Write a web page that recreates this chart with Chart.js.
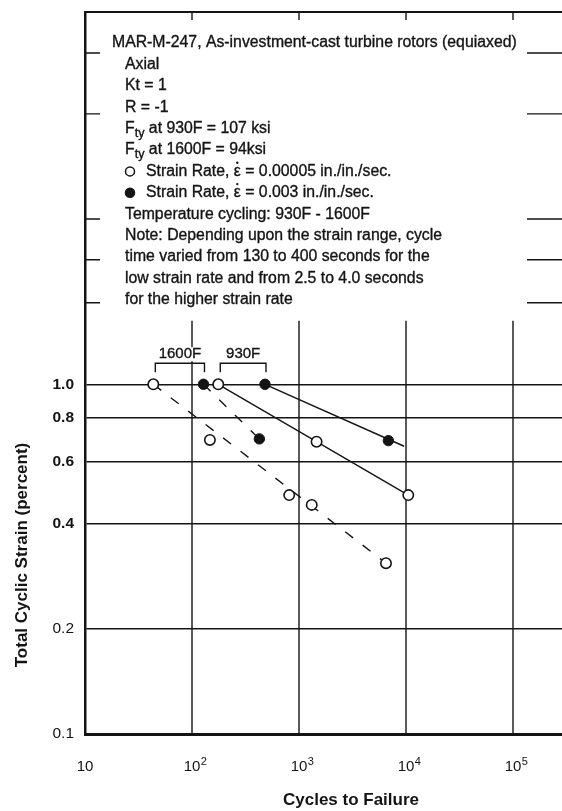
<!DOCTYPE html>
<html>
<head>
<meta charset="utf-8">
<script src="https://cdn.jsdelivr.net/npm/chart.js@4.4.1/dist/chart.umd.min.js"></script>
<style>
  html, body { margin: 0; padding: 0; background: #fff; }
  #wrap { width: 562px; height: 811px; }
</style>
</head>
<body>
<div id="wrap"><canvas id="chart-fatigue" width="562" height="811"></canvas></div>
<script>
const FACE = "'Liberation Sans', Arial, sans-serif";
const INK = "#141414";

// open symbols: strain rate 0.00005 in./in./sec.
const slowCycles = [43.5, 176, 147, 1460, 810, 1315, 10500, 6500];
const slowStrain = [1.0, 1.0, 0.693, 0.685, 0.482, 0.452, 0.482, 0.308];
// filled symbols: strain rate 0.003 in./in./sec.
const fastCycles = [128, 481, 426, 6840];
const fastStrain = [1.0, 1.0, 0.698, 0.69];

// trend lines (end points)
const line930SlowN = [176, 10500];
const line930SlowS = [1.0, 0.482];
const line930FastN = [481, 9600];
const line930FastS = [1.0, 0.665];
const line1600SlowN = [43.5, 6500];
const line1600SlowS = [1.0, 0.308];
const line1600FastN = [128, 426];
const line1600FastS = [1.0, 0.698];

const xTicks = [10, 100, 1000, 10000, 100000];
const xTickLabels = ["10", "10²", "10³", "10⁴", "10⁵"];
const yTicks = [0.1, 0.2, 0.4, 0.6, 0.8, 1.0];
const yTickLabels = ["0.1", "0.2", "0.4", "0.6", "0.8", "1.0"];
// short marks on the frame above the grid
const frameTicks = [1.71, 2.27, 2.97, 5.93, 8.86];

const SUP = { "²": "2", "³": "3", "⁴": "4", "⁵": "5" };
const zip = (xs, ys) => xs.map((v, i) => ({ x: v, y: ys[i] }));

// note block, each line is a list of [text, style] (style: "sub" or "dot")
const noteLines = [
    [["MAR-M-247, As-investment-cast turbine rotors (equiaxed)"]],
    [["Axial"]],
    [["Kt = 1"]],
    [["R = -1"]],
    [["F"], ["ty", "sub"], [" at 930F = 107 ksi"]],
    [["F"], ["ty", "sub"], [" at 1600F = 94ksi"]],
    [["Strain Rate, "], ["\u03B5", "dot"], [" = 0.00005 in./in./sec."]],
    [["Strain Rate, "], ["\u03B5", "dot"], [" = 0.003 in./in./sec."]],
    [["Temperature cycling: 930F - 1600F"]],
    [["Note: Depending upon the strain range, cycle"]],
    [["time varied from 130 to 400 seconds for the"]],
    [["low strain rate and from 2.5 to 4.0 seconds"]],
    [["for the higher strain rate"]],
];

// text with a hairline stroke so it reads a bit heavier than regular
function inkText(ctx, t, x, y) {
    ctx.fillText(t, x, y);
    ctx.strokeText(t, x, y);
}

function drawRuns(ctx, runs, x, y, size) {
    let cx = x;
    runs.forEach(([t, style]) => {
        const sub = style === "sub";
        ctx.font = `${sub ? size * 0.8 : size}px ${FACE}`;
        inkText(ctx, t, cx, sub ? y + size * 0.3 : y);
        const w = ctx.measureText(t).width;
        if (style === "dot") {
            ctx.beginPath();
            ctx.arc(cx + w / 2, y - size * 0.55, 1.2, 0, Math.PI * 2);
            ctx.fill();
        }
        cx += w;
    });
}

const framePlugin = {
    id: "frame",
    beforeDatasetsDraw(chart) {
        const { ctx, scales: { x, y } } = chart;
        ctx.save();
        ctx.strokeStyle = INK;
        ctx.lineWidth = 1.4;
        // decade lines stop under the note block
        xTicks.slice(1).forEach((v) => {
            const px = x.getPixelForValue(v);
            ctx.beginPath();
            ctx.moveTo(px, y.getPixelForValue(0.1));
            ctx.lineTo(px, y.getPixelForValue(1.52));
            ctx.stroke();
        });
        ctx.restore();
    },
    afterDatasetsDraw(chart) {
        const { ctx, chartArea, scales: { x, y } } = chart;
        ctx.save();
        ctx.strokeStyle = INK;
        ctx.fillStyle = INK;

        // top of the frame and its ticks
        ctx.lineWidth = 2;
        ctx.beginPath();
        ctx.moveTo(chartArea.left, chartArea.top);
        ctx.lineTo(chartArea.right, chartArea.top);
        ctx.stroke();
        ctx.lineWidth = 1.4;
        xTicks.slice(1).forEach((v) => {
            const px = x.getPixelForValue(v);
            ctx.beginPath();
            ctx.moveTo(px, chartArea.top);
            ctx.lineTo(px, chartArea.top + 8);
            ctx.stroke();
        });
        frameTicks.forEach((v) => {
            const py = y.getPixelForValue(v);
            ctx.beginPath();
            ctx.moveTo(chartArea.left, py);
            ctx.lineTo(chartArea.left + 15, py);
            ctx.moveTo(chartArea.right - 35, py);
            ctx.lineTo(chartArea.right, py);
            ctx.stroke();
        });

        // decade labels: "10" centred on the line, exponent raised after it
        ctx.textBaseline = "middle";
        ctx.textAlign = "left";
        xTickLabels.forEach((label, i) => {
            const px = x.getPixelForValue(xTicks[i]);
            const base = label.slice(0, 2);
            const exp = label.slice(2).split("").map((c) => SUP[c] || c).join("");
            ctx.font = `15px ${FACE}`;
            const bw = ctx.measureText(base).width;
            ctx.fillText(base, px - bw / 2, 767);
            if (exp) {
                ctx.font = `11px ${FACE}`;
                ctx.fillText(exp, px + bw / 2 + 0.5, 762);
            }
        });

        // temperature brackets over the 1.0 row
        const yTop = y.getPixelForValue(1.0);
        const brackets = [
            ["1600F", slowCycles[0], fastCycles[0]],
            ["930F", slowCycles[1], fastCycles[1]],
        ];
        ctx.font = `15px ${FACE}`;
        ctx.textAlign = "center";
        brackets.forEach(([label, a, b]) => {
            const x0 = x.getPixelForValue(a) + 2;
            const x1 = x.getPixelForValue(b) + 1;
            const mid = (x0 + x1) / 2;
            const w = ctx.measureText(label).width;
            ctx.fillStyle = "#fff";
            ctx.fillRect(mid - w / 2 - 1, yTop - 37, w + 2, 14);
            ctx.fillStyle = INK;
            ctx.lineWidth = 0.35;
            inkText(ctx, label, mid, yTop - 30);
            ctx.lineWidth = 1.4;
            ctx.beginPath();
            ctx.moveTo(x0, yTop - 12);
            ctx.lineTo(x0, yTop - 21);
            ctx.lineTo(x1, yTop - 21);
            ctx.lineTo(x1, yTop - 12);
            ctx.stroke();
        });

        // note block
        ctx.textAlign = "left";
        noteLines.forEach((runs, i) => {
            const py = 43 + i * 21.4;
            let px = i === 0 ? 112 : 125;
            if (i === 6 || i === 7) {
                ctx.beginPath();
                ctx.arc(130, py, 4.5, 0, Math.PI * 2);
                ctx.fillStyle = i === 6 ? "#fff" : INK;
                ctx.fill();
                ctx.lineWidth = 1.5;
                ctx.stroke();
                ctx.fillStyle = INK;
                px = 146;
            }
            ctx.lineWidth = 0.35;
            drawRuns(ctx, runs, px, py, 15.8);
        });

        // axis titles
        ctx.font = `bold 17px ${FACE}`;
        ctx.textAlign = "center";
        ctx.fillText("Cycles to Failure", 351, 800);
        ctx.translate(22, 555);
        ctx.rotate(-Math.PI / 2);
        ctx.fillText("Total Cyclic Strain (percent)", 0, 0);
        ctx.restore();
    },
};

const lineStyle = { showLine: true, pointRadius: 0, borderColor: INK, borderWidth: 1.4, order: 2 };

new Chart(document.getElementById("chart-fatigue"), {
    type: "scatter",
    data: {
        datasets: [
            { ...lineStyle, data: zip(line930SlowN, line930SlowS) },
            { ...lineStyle, data: zip(line930FastN, line930FastS) },
            { ...lineStyle, borderDash: [10, 12], data: zip(line1600SlowN, line1600SlowS) },
            { ...lineStyle, borderDash: [10, 12], data: zip(line1600FastN, line1600FastS) },
            {
                label: "Strain Rate 0.00005",
                data: zip(slowCycles, slowStrain),
                pointRadius: 5.2,
                pointBackgroundColor: "#fff",
                pointBorderColor: INK,
                pointBorderWidth: 1.6,
                order: 1,
            },
            {
                label: "Strain Rate 0.003",
                data: zip(fastCycles, fastStrain),
                pointRadius: 5.2,
                pointBackgroundColor: INK,
                pointBorderColor: INK,
                pointBorderWidth: 1,
                order: 1,
            },
        ],
    },
    options: {
        responsive: false,
        animation: false,
        layout: { autoPadding: false, padding: { top: 12, right: 0, left: 0, bottom: 0 } },
        plugins: { legend: { display: false }, tooltip: { enabled: false } },
        scales: {
            x: {
                type: "logarithmic",
                min: 10,
                max: 287000,
                afterFit: (s) => {
                    s.height = 77;
                    s.paddingLeft = 0;
                    s.paddingRight = 0;
                },
                afterBuildTicks: (s) => { s.ticks = xTicks.map((v) => ({ value: v })); },
                grid: { display: false },
                border: { display: true, color: INK, width: 3 },
                ticks: { display: false },
            },
            y: {
                type: "logarithmic",
                min: 0.1,
                max: 11.6,
                afterFit: (s) => {
                    s.width = 85;
                    s.paddingTop = 0;
                    s.paddingBottom = 0;
                },
                afterBuildTicks: (s) => { s.ticks = yTicks.map((v) => ({ value: v })); },
                grid: { color: INK, lineWidth: 1.4, drawTicks: false },
                border: { display: true, color: INK, width: 2.5 },
                ticks: {
                    autoSkip: false,
                    padding: 11,
                    color: INK,
                    font: (c) => ({
                        family: FACE,
                        size: 15.5,
                        weight: c.tick && c.tick.value >= 0.4 ? "bold" : "normal",
                    }),
                    callback: (v, i) => yTickLabels[i],
                },
            },
        },
    },
    plugins: [framePlugin],
});
</script>
</body>
</html>
